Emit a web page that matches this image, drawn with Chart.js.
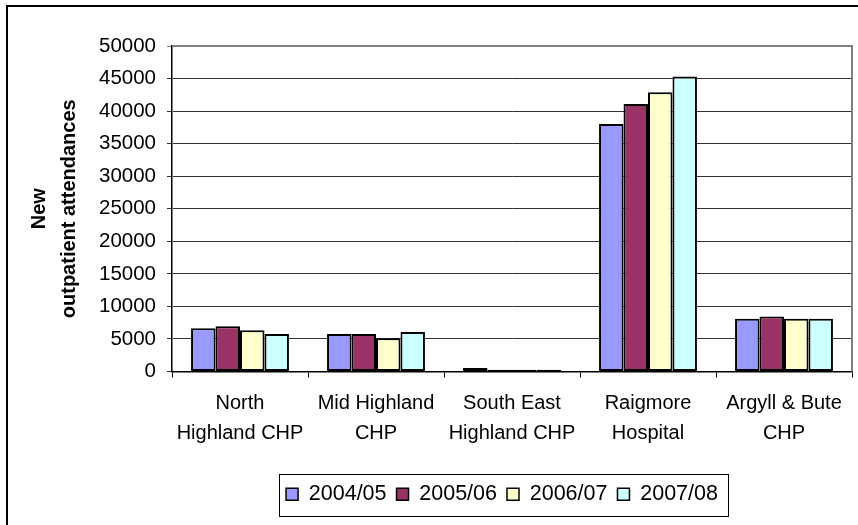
<!DOCTYPE html>
<html>
<head>
<meta charset="utf-8">
<script src="https://cdn.jsdelivr.net/npm/chart.js@4.4.1/dist/chart.umd.min.js"></script>
<style>
  html, body { margin: 0; padding: 0; background: #fff; overflow: hidden; }
  #wrap { width: 1004px; height: 540px; }
</style>
</head>
<body>
<div id="wrap"><canvas id="grafico" width="1004" height="540"></canvas></div>
<script>
// ➤ Datos
const categorias = [
    ["North", "Highland CHP"],
    ["Mid Highland", "CHP"],
    ["South East", "Highland CHP"],
    ["Raigmore", "Hospital"],
    ["Argyll & Bute", "CHP"]
];
const periodos = ["2004/05", "2005/06", "2006/07", "2007/08"];
const v2004 = [6650, 5750, 550, 38000, 8100];
const v2005 = [6950, 5750, 250, 41100, 8450];
const v2006 = [6350, 5100, 250, 42900, 8100];
const v2007 = [5750, 6050, 250, 45300, 8100];
const colores = ["#9999FF", "#993366", "#FFFFCC", "#CCFFFF"];
const yMax = 50000;
const yPaso = 5000;

const fuente = "'Liberation Sans', Arial, sans-serif";

// ➤ Bordes: recuadro exterior, borde del área de trazado y caja de la leyenda
const bordes = {
    id: "bordes",
    beforeDraw(chart) {
        const c = chart.ctx;
        c.save();
        c.strokeStyle = "#000";
        c.lineWidth = 2;
        c.strokeRect(7, 6, chart.width + 20, chart.height + 20);
        c.restore();
    },
    afterDraw(chart) {
        const c = chart.ctx;
        const a = chart.chartArea;
        c.save();
        c.strokeStyle = "#808080";
        c.lineWidth = 2;
        c.beginPath();
        c.moveTo(a.left, a.top);
        c.lineTo(a.right, a.top);
        c.lineTo(a.right, a.bottom);
        c.stroke();

        const lg = chart.legend;
        const cajas = lg.legendHitBoxes;
        if (cajas && cajas.length) {
            const izq = Math.min(...cajas.map(b => b.left)) - 7;
            const der = Math.max(...cajas.map(b => b.left + b.width)) + 10;
            c.strokeStyle = "#000";
            c.lineWidth = 1;
            c.strokeRect(Math.round(izq) + 0.5, Math.round(lg.top) + 0.5,
                         Math.round(der - izq), Math.round(lg.bottom - lg.top));
        }
        c.restore();
    }
};

const ctx = document.getElementById("grafico").getContext("2d");
new Chart(ctx, {
    type: "bar",
    data: {
        labels: categorias,
        datasets: [v2004, v2005, v2006, v2007].map((serie, i) => ({
            label: periodos[i],
            data: serie,
            backgroundColor: colores[i],
            borderColor: "#000",
            borderWidth: 2,
            borderSkipped: false,
            barPercentage: 1,
            categoryPercentage: 0.72
        }))
    },
    options: {
        responsive: false,
        animation: false,
        devicePixelRatio: 1,
        layout: { padding: { left: 0, right: 0, top: 46, bottom: 25 } },
        plugins: {
            tooltip: { enabled: false },
            legend: {
                position: "bottom",
                labels: {
                    color: "#000",
                    font: { family: fuente, size: 21.5 },
                    boxWidth: 12,
                    boxHeight: 12,
                    padding: 10,
                    generateLabels(chart) {
                        return chart.data.datasets.map((d, i) => ({
                            text: d.label,
                            fillStyle: d.backgroundColor,
                            strokeStyle: "#000",
                            lineWidth: 1.5,
                            datasetIndex: i,
                            fontColor: "#000"
                        }));
                    }
                }
            }
        },
        scales: {
            x: {
                grid: {
                    offset: true,
                    drawOnChartArea: false,
                    tickLength: 6,
                    color: "#000",
                    lineWidth: 1
                },
                border: { color: "#000", width: 1.5 },
                ticks: {
                    color: "#000",
                    font: { family: fuente, size: 20, lineHeight: 1.5 },
                    padding: 11,
                    maxRotation: 0,
                    autoSkip: false
                },
                afterFit(s) { s.height = 102; }
            },
            y: {
                min: 0,
                max: yMax,
                ticks: {
                    stepSize: yPaso,
                    color: "#000",
                    font: { family: fuente, size: 20.5 },
                    padding: 11,
                    callback: (v) => String(v)
                },
                grid: {
                    color: (c) => c.tick && c.tick.value === yMax ? "#808080" : "#333",
                    lineWidth: 1,
                    tickLength: 5
                },
                border: { color: "#000", width: 1.5 },
                title: {
                    display: true,
                    text: ["New", "outpatient attendances"],
                    color: "#000",
                    font: { family: fuente, size: 20, weight: "bold", lineHeight: 1.5 },
                    padding: { top: 24, bottom: 0 }
                },
                afterFit(s) { s.width = 172; }
            },
            y2: {
                position: "right",
                display: true,
                grid: { display: false },
                border: { display: false },
                ticks: { display: false },
                afterFit(s) { s.width = 152; }
            }
        }
    },
    plugins: [bordes]
});
</script>
</body>
</html>
